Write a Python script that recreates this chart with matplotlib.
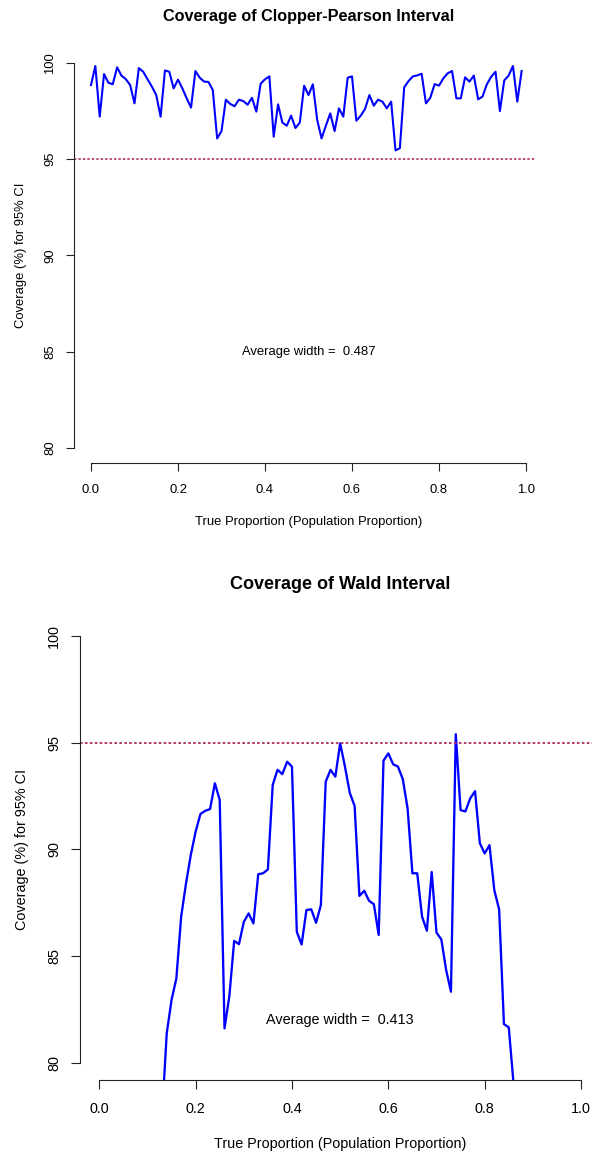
import numpy as np
import matplotlib
matplotlib.use("Agg")
import matplotlib.pyplot as plt

plt.rcParams['font.family'] = ['Liberation Sans', 'DejaVu Sans']
plt.rcParams['lines.scale_dashes'] = False

# simulated coverage (%) of 95% intervals
p_cp = np.arange(100) / 100
cp_cov = [98.84, 99.83, 97.20, 99.41, 98.96, 98.88, 99.76, 99.33, 99.15, 98.84,
          97.89, 99.72, 99.53, 99.14, 98.76, 98.32, 97.20, 99.60, 99.53, 98.67,
          99.12, 98.67, 98.15, 97.67, 99.57, 99.22, 99.02, 99.00, 98.58, 96.07,
          96.45, 98.08, 97.86, 97.74, 98.08, 98.01, 97.82, 98.18, 97.46, 98.91,
          99.14, 99.29, 96.16, 97.84, 96.89, 96.73, 97.25, 96.61, 96.89, 98.81,
          98.32, 98.88, 97.03, 96.07, 96.73, 97.37, 96.45, 97.63, 97.20, 99.22,
          99.29, 96.99, 97.25, 97.60, 98.32, 97.77, 98.08, 97.98, 97.63, 97.98,
          95.45, 95.56, 98.72, 99.05, 99.29, 99.34, 99.43, 97.89, 98.18, 98.89,
          98.81, 99.19, 99.45, 99.57, 98.15, 98.15, 99.24, 99.02, 99.33, 98.10,
          98.24, 98.88, 99.27, 99.53, 97.49, 99.08, 99.33, 99.83, 97.98, 99.57]

# Wald coverage, only the part that shows above 80 (p = 0.13 .. 0.86)
p_wald = np.arange(13, 87) / 100
wald_cov = [77.4, 81.37, 82.94, 83.95, 86.85, 88.40, 89.74, 90.83, 91.66, 91.81,
            91.89, 93.10, 92.32, 81.61, 83.12, 85.71, 85.56, 86.60, 87.00, 86.53,
            88.84, 88.88, 89.06, 93.02, 93.73, 93.53, 94.11, 93.88, 86.14, 85.54,
            87.16, 87.19, 86.56, 87.39, 93.17, 93.73, 93.41, 94.97, 93.88, 92.65,
            92.04, 87.82, 88.06, 87.59, 87.43, 85.99, 94.16, 94.50, 93.99, 93.88,
            93.30, 91.92, 88.88, 88.88, 86.85, 86.19, 88.94, 86.10, 85.78, 84.35,
            83.33, 95.40, 91.84, 91.78, 92.39, 92.73, 90.29, 89.81, 90.20, 88.09,
            87.19, 81.81, 81.66, 79.0]

titles = ["Coverage of Clopper-Pearson Interval", "Coverage of Wald Interval"]
widths = [0.487, 0.413]
text_y = [85, 82]
xticks = [0.0, 0.2, 0.4, 0.6, 0.8, 1.0]
yticks = [80, 85, 90, 95, 100]

W, H = 592, 1156
fig = plt.figure(figsize=(W / 100, H / 100), dpi=100)


def panel(box, x, y, title, width, ty, s, ref_end):
    # box = left, top, right, bottom in pixels; s = font scale of this panel
    l, t, r, b = box
    ax = fig.add_axes([l / W, 1 - b / H, (r - l) / W, (b - t) / H])
    ax.set_xlim(-0.04, 1.04)
    ax.set_ylim(79.2, 100.8)
    ax.plot(x, y, color="#0000FF", lw=1.5 * s)
    ax.hlines(95, -0.04, ref_end, color="#B03060", lw=1.2 * s,
              linestyles=[(0, (1.7 * s, 1.5 * s))])
    for side in ["top", "right"]:
        ax.spines[side].set_visible(False)
    ax.spines["left"].set_bounds(80, 100)
    ax.spines["bottom"].set_bounds(0, 1)
    for side in ["left", "bottom"]:
        ax.spines[side].set_color("#222222")
        ax.spines[side].set_linewidth(0.8)
    fs = 9.4 * s
    ax.set_xticks(xticks, ["%.1f" % v for v in xticks])
    ax.set_yticks(yticks, [str(v) for v in yticks], rotation=90, va="center")
    ax.tick_params(axis="x", length=5.6 * s, width=0.8, color="#222222",
                   labelsize=fs, pad=9.0 * s)
    ax.tick_params(axis="y", length=5.6 * s, width=0.8, color="#222222",
                   labelsize=fs, pad=6.8 * s)
    ax.set_xlabel("True Proportion (Population Proportion)", fontsize=fs, va="center")
    ax.xaxis.set_label_coords(0.5, -0.14)
    ax.set_ylabel("Coverage (%) for 95% CI", fontsize=fs, va="center")
    ax.yaxis.set_label_coords(-0.112, 0.5)
    ax.text(0.5, 1.074, title, transform=ax.transAxes, ha="center", va="center",
            fontsize=11.7 * s, fontweight="bold")
    ax.text(0.5, ty, "Average width =  %.3f" % width, ha="center", va="center",
            fontsize=fs)
    return ax


panel((73.6, 47.3, 543.4, 463.4), p_cp, cp_cov, titles[0], widths[0], text_y[0], 1.0, 1.02)
panel((80.0, 619.0, 600.3, 1079.8), p_wald, wald_cov, titles[1], widths[1], text_y[1], 1.107, 1.04)

fig.savefig("out.png", dpi=100)
